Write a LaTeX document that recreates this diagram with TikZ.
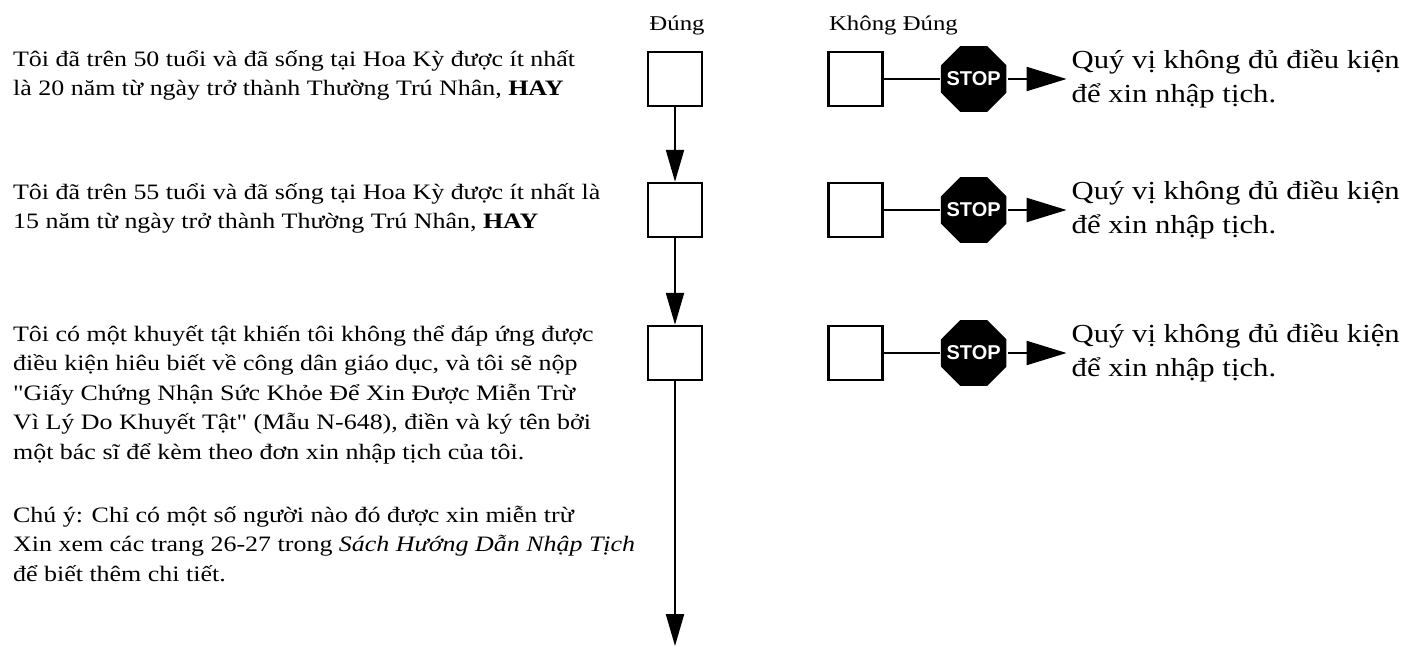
\documentclass[tikz,border=0pt]{standalone}
\usepackage{fontspec}
\setmainfont{Liberation Serif}[FakeStretch=1.18,Ligatures=TeXOff]
\newfontfamily\stopfont{Liberation Sans}
\usetikzlibrary{arrows.meta,positioning,shapes.geometric}

\begin{document}
\begin{tikzpicture}[x=1pt,y=-1pt,line width=2.2pt,
    >={Triangle[length=32pt,width=18pt]},
    tick/.style={draw,line width=2.5pt,minimum size=54pt,inner sep=0pt},
    stopsign/.style={regular polygon,regular polygon sides=8,fill=black,
        minimum size=71pt,inner sep=0pt,
        label={[text=white,inner sep=0pt,
            font=\stopfont\bfseries\fontsize{20}{20}\selectfont]center:STOP}},
    ask/.style={anchor=north west,align=left,inner sep=0pt,
        font=\fontsize{22}{29.5}\selectfont},
    verdict/.style={align=left,inner sep=0pt,
        font=\fontsize{26}{34}\selectfont},
    head/.style={anchor=base,inner sep=0pt,font=\fontsize{21}{24}\selectfont}]

  \useasboundingbox (0,0) rectangle (1422,648);

  \node[tick] (yes1) at (675,79) {};
  \node[tick] (yes2) [below=74.5pt of yes1] {};
  \node[tick] (yes3) [below=86.5pt of yes2] {};
  \coordinate[below=264.75pt of yes3] (bottom);

  \node[tick] (no1) [right=124pt of yes1] {};
  \node[tick] (no2) [right=124pt of yes2] {};
  \node[tick] (no3) [right=124pt of yes3] {};

  \node[stopsign] (stop1) [right=56pt of no1] {};
  \node[stopsign] (stop2) [right=56pt of no2] {};
  \node[stopsign] (stop3) [right=56pt of no3] {};

  \node[verdict] (out1) [right=63pt of stop1] {Quý vị không đủ điều kiện\\để xin nhập tịch.};
  \node[verdict] (out2) [right=63pt of stop2] {Quý vị không đủ điều kiện\\để xin nhập tịch.};
  \node[verdict] (out3) [right=63pt of stop3] {Quý vị không đủ điều kiện\\để xin nhập tịch.};

  \node[head] (yeslabel) at (677,30) {Đúng};
  \node[head,anchor=base west] (nolabel) at (828,30) {Không Đúng};

  % questions
  \node[ask] (q1) at (12,49) {Tôi đã trên 50 tuổi và đã sống tại Hoa Kỳ được ít nhất\\là 20 năm từ ngày trở thành Thường Trú Nhân, \textbf{HAY}};
  \node[ask] (q2) at (12,182) {Tôi đã trên 55 tuổi và đã sống tại Hoa Kỳ được ít nhất là\\15 năm từ ngày trở thành Thường Trú Nhân, \textbf{HAY}};
  \node[ask] (q3) at (12,324) {Tôi có một khuyết tật khiến tôi không thể đáp ứng được\\điều kiện hiêu biết về công dân giáo dục, và tôi sẽ nộp\\"Giấy Chứng Nhận Sức Khỏe Để Xin Được Miễn Trừ\\Vì Lý Do Khuyết Tật" (Mẫu N-648), điền và ký tên bởi\\một bác sĩ để kèm theo đơn xin nhập tịch của tôi.};
  \node[ask] (note) at (12,505) {Chú ý: Chỉ có một số người nào đó được xin miễn trừ\\Xin xem các trang 26-27 trong \textit{Sách Hướng Dẫn Nhập Tịch}\\để biết thêm chi tiết.};

  \draw[->] (yes1) -- (yes2);
  \draw[->] (yes2) -- (yes3);
  \draw[->] (yes3) -- (bottom);

  \draw (no1) -- (stop1);
  \draw (no2) -- (stop2);
  \draw (no3) -- (stop3);
  \draw[-{Triangle[length=40pt,width=24pt]},shorten >=4pt] (stop1) -- (out1.west);
  \draw[-{Triangle[length=40pt,width=24pt]},shorten >=4pt] (stop2) -- (out2.west);
  \draw[-{Triangle[length=40pt,width=24pt]},shorten >=4pt] (stop3) -- (out3.west);
\end{tikzpicture}
\end{document}
